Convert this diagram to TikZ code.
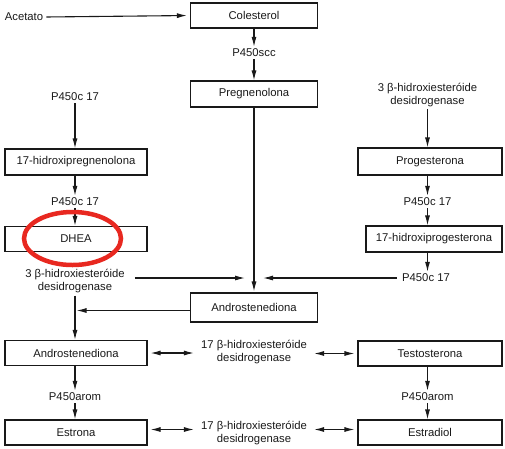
\documentclass[tikz,border=0pt]{standalone}
\usepackage{fontspec}
\setmainfont{Liberation Sans}
\usetikzlibrary{arrows.meta,calc}
\definecolor{ink}{RGB}{25,25,25}
\definecolor{ringred}{RGB}{232,40,32}
\begin{document}
\begin{tikzpicture}[x=1pt,y=-1pt,
  font=\fontsize{11.3}{13}\selectfont,
  box/.style={draw=ink, line width=1.1pt, minimum height=25pt, inner sep=0pt, text=ink},
  lbl/.style={inner sep=2pt, text=ink, align=center},
  arr/.style={draw=ink, line width=1.1pt, -{Latex[length=10pt,width=5pt]}},
  darr/.style={draw=ink, line width=1.1pt, {Latex[length=10pt,width=5pt]}-{Latex[length=10pt,width=5pt]}}]
\useasboundingbox (0,0) rectangle (505,448);

% boxes
\node[box, minimum width=127pt] (col) at (254,15.5) {Colesterol};
\node[box, minimum width=127pt, minimum height=26pt] (preg) at (254,94) {Pregnenolona};
\node[box, minimum width=142pt, minimum height=26pt] (hpreg) at (76,162) {17-hidroxipregnenolona};
\node[box, minimum width=142pt] (dhea) at (76,239) {DHEA};
\node[box, minimum width=144pt, minimum height=27pt] (prog) at (430,161.5) {Progesterona};
\node[box, minimum width=136pt, minimum height=26pt] (hprog) at (434,239) {17-hidroxiprogesterona};
\node[box, minimum width=127pt, minimum height=29pt] (andc) at (254,307.5) {Androstenediona};
\node[box, minimum width=142pt] (andl) at (76,353) {Androstenediona};
\node[box, minimum width=144pt] (test) at (430,353.5) {Testosterona};
\node[box, minimum width=142pt] (estr) at (76,432.5) {Estrona};
\node[box, minimum width=144pt] (estd) at (430,432.5) {Estradiol};

% labels
\node[lbl] (acet) at (24,17) {Acetato};
\node[lbl] (scc) at (254,53) {P450scc};
\node[lbl] (c17a) at (75,97) {P450c 17};
\node[lbl] (hsdr) at (427.5,95) {3 β-hidroxiesteróide\\desidrogenase};
\node[lbl] (c17b) at (75,202) {P450c 17};
\node[lbl] (c17c) at (427.5,202) {P450c 17};
\node[lbl] (hsdl) at (75,281.5) {3 β-hidroxiesteróide\\desidrogenase};
\node[lbl] (c17d) at (426,278) {P450c 17};
\node[lbl, inner xsep=7pt] (hsda) at (254,352) {17 β-hidroxiesteróide\\desidrogenase};
\node[lbl, inner xsep=7pt] (hsdb) at (254,432.5) {17 β-hidroxiesteróide\\desidrogenase};
\node[lbl] (arol) at (75,397) {P450arom};
\node[lbl] (aror) at (427.5,397) {P450arom};

\coordinate (m) at (254,278);
\coordinate (aw) at ([yshift=-3pt]andc.west);
\coordinate (ee) at ([yshift=3pt]estr.east);
\coordinate (dw) at ([yshift=3pt]estd.west);

% connectors
\draw[arr, shorten <=1pt, shorten >=3pt] (acet.east) -- (col.west);
\draw[arr] (col.south) -- (scc.north);
\draw[arr] (scc.south) -- (preg.north);
\draw[arr, shorten >=1pt] (preg.south) -- (andc.north);

\draw[arr] (c17a.south) -- (c17a |- hpreg.north);
\draw[arr] (c17a |- hpreg.south) -- (c17b.north);
\draw[arr] (c17b.south) -- (c17b |- dhea.north);

\draw[arr] (hsdr.south) -- (hsdr |- prog.north);
\draw[arr] (hsdr |- prog.south) -- (c17c.north);
\draw[arr] (c17c.south) -- (c17c |- hprog.north);
\draw[arr] (c17c |- hprog.south) -- (c17c |- c17d.north);

\draw[arr] ([xshift=8pt]hsdl.east |- m) -- ([xshift=-9pt]m);
\draw[arr] ([xshift=-3pt]c17d.west) -- ([xshift=9pt]m);

\draw[arr, shorten >=1.5pt] (aw) -- (hsdl.south |- aw);
\draw[arr] (hsdl.south) -- (hsdl.south |- andl.north);

\draw[darr, shorten <=3pt] (andl.east) -- (hsda.west |- andl.east);
\draw[darr, shorten >=3pt] (hsda.east |- test.west) -- (test.west);
\draw[darr, shorten <=3pt] (ee) -- (hsdb.west |- ee);
\draw[darr, shorten >=3pt] (hsdb.east |- dw) -- (dw);

\draw[arr] (arol |- andl.south) -- (arol.north);
\draw[arr] (arol.south) -- (arol |- estr.north);
\draw[arr] (aror |- test.south) -- (aror.north);
\draw[arr] (aror.south) -- (aror |- estd.north);

% red highlight
\draw[ringred, line width=4.5pt] (72.5,238.5) ellipse [x radius=48.5pt, y radius=26.5pt];
\end{tikzpicture}
\end{document}
